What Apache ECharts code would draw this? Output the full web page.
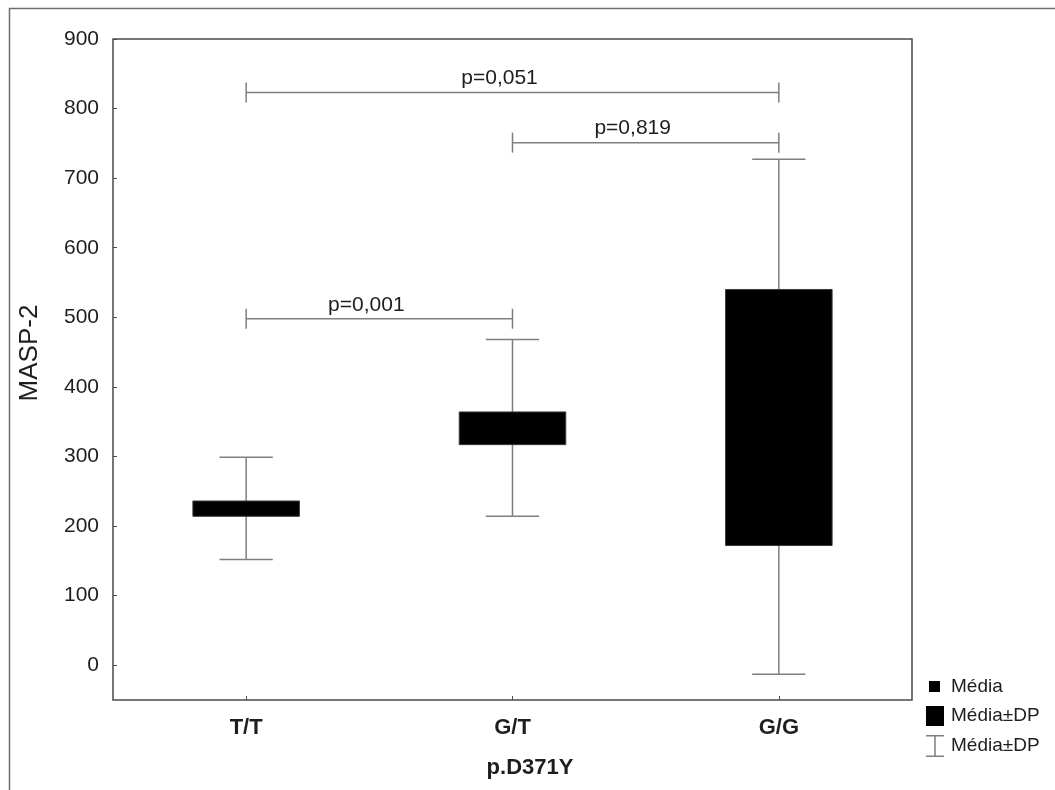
<!DOCTYPE html>
<html>
<head>
<meta charset="utf-8">
<script src="https://cdn.jsdelivr.net/npm/echarts@6/dist/echarts.min.js"></script>
<style>
html,body{margin:0;padding:0;background:#fff;}
#chart{width:1055px;height:790px;}
</style>
</head>
<body>
<div id="chart"></div>
<script>
// ---- data ----
const categories = ['T/T', 'G/T', 'G/G'];
const means = [225, 341, 356];
const boxLow = [214, 317, 172];
const boxHigh = [236, 364, 540];
const whiskerLow = [152, 214, -13];
const whiskerHigh = [299, 468, 727];
const yTicks = [0, 100, 200, 300, 400, 500, 600, 700, 800, 900];
const bracketFrom = ['T/T', 'G/T', 'T/T'];
const bracketTo = ['G/G', 'G/G', 'G/T'];
const bracketY = [823, 751, 498];
const bracketLabels = ['p=0,051', 'p=0,819', 'p=0,001'];
const yTitle = 'MASP-2';
const xTitle = 'p.D371Y';
const legendMean = 'Média';
const legendBox = 'Média±DP';
const legendWhisker = 'Média±DP';

const FONT = '"Liberation Sans", Arial, Helvetica, sans-serif';
const AXIS_COLOR = '#4a4a4a';
const WHISK_COLOR = '#7f7f7f';
const TEXT_COLOR = '#1e1e1e';

const chart = echarts.init(document.getElementById('chart'), null, {renderer: 'canvas'});

const boxData = categories.map((c, i) => [i, boxLow[i], boxHigh[i]]);
const whiskerData = categories.map((c, i) => [i, whiskerLow[i], whiskerHigh[i]]);
const meanData = categories.map((c, i) => [i, means[i]]);
const bracketData = bracketLabels.map((t, i) => [categories.indexOf(bracketFrom[i]), categories.indexOf(bracketTo[i]), bracketY[i]]);

const option = {
  animation: false,
  backgroundColor: '#ffffff',
  textStyle: {fontFamily: FONT},
  grid: {
    left: 113, top: 39, right: 143, bottom: 90,
    show: true, borderColor: AXIS_COLOR, borderWidth: 1.5, backgroundColor: 'transparent'
  },
  xAxis: {
    type: 'category',
    data: categories,
    axisLine: {show: false, onZero: false},
    axisTick: {show: true, inside: true, length: 4, alignWithLabel: true, lineStyle: {color: AXIS_COLOR, width: 1}},
    axisLabel: {margin: 17, fontSize: 22, fontWeight: 'bold', color: TEXT_COLOR, fontFamily: FONT},
    splitLine: {show: false}
  },
  yAxis: {
    type: 'value',
    min: -50, max: 900, interval: 50,
    axisLine: {show: false, onZero: false},
    axisTick: {show: true, inside: true, length: 4, customValues: yTicks, lineStyle: {color: AXIS_COLOR, width: 1}},
    axisLabel: {
      margin: 14, fontSize: 21, color: TEXT_COLOR, fontFamily: FONT, customValues: yTicks,
      formatter: v => (yTicks.indexOf(v) >= 0 ? String(v) : '')
    },
    splitLine: {show: false}
  },
  legend: [
    {
      data: [{name: legendMean, icon: 'rect', itemStyle: {color: '#000', opacity: 1}}],
      orient: 'vertical', left: 929, top: 677, padding: 0,
      itemWidth: 11, itemHeight: 11, selectedMode: false,
      textStyle: {fontSize: 19, color: TEXT_COLOR, fontFamily: FONT, padding: [0, 0, 0, 6]}
    },
    {
      data: [{name: legendBox, icon: 'rect', itemStyle: {color: '#000'}}],
      orient: 'vertical', left: 926, top: 706, padding: 0,
      itemWidth: 18, itemHeight: 20, selectedMode: false,
      textStyle: {fontSize: 19, color: TEXT_COLOR, fontFamily: FONT, padding: [0, 0, 0, 2]}
    },
    {
      data: [{name: legendWhisker, icon: 'path://M0,0h18v1.5h-18z M8.25,0h1.5v22h-1.5z M0,20.5h18v1.5h-18z', itemStyle: {color: WHISK_COLOR}}],
      orient: 'vertical', left: 926, top: 735, padding: 0,
      itemWidth: 18, itemHeight: 22, selectedMode: false,
      textStyle: {fontSize: 19, color: TEXT_COLOR, fontFamily: FONT, padding: [0, 0, 0, 2]}
    }
  ],
  graphic: [
    {
      type: 'rect', silent: true, z: 0,
      shape: {x: 9.5, y: 8.5, width: 1200, height: 900},
      style: {fill: 'none', stroke: '#6e6e6e', lineWidth: 1.5}
    },
    {
      type: 'text', x: 30, y: 353, rotation: Math.PI / 2, silent: true,
      style: {text: yTitle, x: 0, y: 0, align: 'center', verticalAlign: 'middle', fontSize: 26, fill: TEXT_COLOR, fontFamily: FONT}
    },
    {
      type: 'text', x: 530, y: 768, silent: true,
      style: {text: xTitle, align: 'center', verticalAlign: 'middle', fontSize: 22, fontWeight: 'bold', fill: TEXT_COLOR, fontFamily: FONT}
    }
  ],
  series: [
    {
      name: legendWhisker,
      type: 'custom',
      z: 2,
      itemStyle: {color: WHISK_COLOR},
      encode: {x: 0, y: [1, 2]},
      data: whiskerData,
      renderItem: function (params, api) {
        const i = api.value(0);
        const lo = api.coord([i, api.value(1)]);
        const hi = api.coord([i, api.value(2)]);
        const band = api.size([1, 0])[0];
        const cw = band * 0.1;
        const st = {stroke: WHISK_COLOR, lineWidth: 1.5, fill: 'none'};
        return {
          type: 'group',
          children: [
            {type: 'line', shape: {x1: lo[0], y1: lo[1], x2: hi[0], y2: hi[1]}, style: st},
            {type: 'line', shape: {x1: lo[0] - cw, y1: lo[1], x2: lo[0] + cw, y2: lo[1]}, style: st},
            {type: 'line', shape: {x1: hi[0] - cw, y1: hi[1], x2: hi[0] + cw, y2: hi[1]}, style: st}
          ]
        };
      }
    },
    {
      name: legendBox,
      type: 'custom',
      z: 3,
      itemStyle: {color: '#000'},
      encode: {x: 0, y: [1, 2]},
      data: boxData,
      renderItem: function (params, api) {
        const i = api.value(0);
        const lo = api.coord([i, api.value(1)]);
        const hi = api.coord([i, api.value(2)]);
        const band = api.size([1, 0])[0];
        const hw = band * 0.2;
        return {
          type: 'rect',
          shape: {x: lo[0] - hw, y: hi[1], width: hw * 2, height: lo[1] - hi[1]},
          style: {fill: '#000', stroke: '#3a3a3a', lineWidth: 1}
        };
      }
    },
    {
      name: legendMean,
      type: 'scatter',
      z: 4,
      symbol: 'rect',
      symbolSize: 8,
      itemStyle: {color: '#000', opacity: 1},
      data: meanData
    },
    {
      name: 'brackets',
      type: 'custom',
      z: 5,
      encode: {x: [0, 1], y: 2},
      data: bracketData,
      renderItem: function (params, api) {
        const a = api.coord([api.value(0), api.value(2)]);
        const b = api.coord([api.value(1), api.value(2)]);
        const st = {stroke: WHISK_COLOR, lineWidth: 1.5, fill: 'none'};
        const cap = 10;
        return {
          type: 'group',
          children: [
            {type: 'line', shape: {x1: a[0], y1: a[1], x2: b[0], y2: b[1]}, style: st},
            {type: 'line', shape: {x1: a[0], y1: a[1] - cap, x2: a[0], y2: a[1] + cap}, style: st},
            {type: 'line', shape: {x1: b[0], y1: b[1] - cap, x2: b[0], y2: b[1] + cap}, style: st},
            {
              type: 'text',
              style: {
                text: bracketLabels[params.dataIndex],
                x: (a[0] + b[0]) / 2 - 13, y: a[1] - 14,
                align: 'center', verticalAlign: 'middle',
                fontSize: 21, fill: TEXT_COLOR, fontFamily: FONT
              }
            }
          ]
        };
      }
    }
  ]
};

chart.setOption(option);
</script>
</body>
</html>
